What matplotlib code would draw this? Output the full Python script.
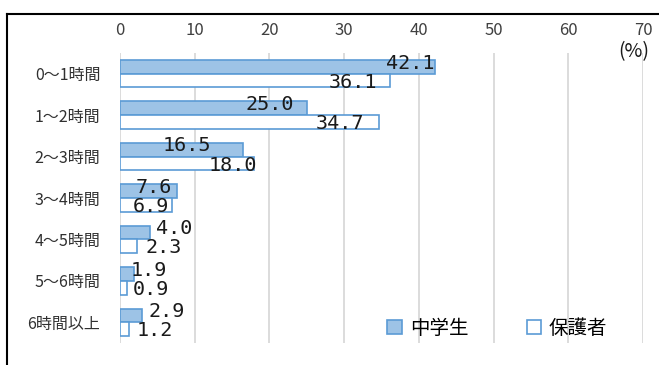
import matplotlib.pyplot as plt
from matplotlib.lines import Line2D
import numpy as np

plt.rcParams['font.family'] = ['Noto Sans CJK JP', 'DejaVu Sans']

# data
categories = ["0～1時間", "1～2時間", "2～3時間", "3～4時間", "4～5時間", "5～6時間", "6時間以上"]
students = [42.1, 25.0, 16.5, 7.6, 4.0, 1.9, 2.9]
parents = [36.1, 34.7, 18.0, 6.9, 2.3, 0.9, 1.2]

# where the value labels sit (centre, in data units) - they were moved by hand in the original
student_label_x = [38.8, 20.1, 9.0, 4.5, 7.2, 3.8, 6.2]
parent_label_x = [31.2, 29.4, 15.1, 4.2, 5.9, 4.2, 4.6]

fig = plt.figure(figsize=(6.59, 3.65), dpi=100)
ax = fig.add_axes([0.182, 0.060, 0.794, 0.795])

y = np.arange(len(categories))
h = 0.33
ax.barh(y - h / 2, students, height=h, color='#9DC3E6', edgecolor='#5B9BD5', linewidth=1.2, label='中学生', zorder=3)
ax.barh(y + h / 2, parents, height=h, color='white', edgecolor='#5B9BD5', linewidth=1.2, label='保護者', zorder=3)

for i in range(len(categories)):
    ax.text(student_label_x[i], y[i] - h / 2 - 0.09, f"{students[i]:.1f}", ha='center', va='center',
            fontsize=14.5, family='DejaVu Sans Mono', color='#1a1a1a', zorder=4)
    ax.text(parent_label_x[i], y[i] + h / 2 + 0.04, f"{parents[i]:.1f}", ha='center', va='center',
            fontsize=14.5, family='DejaVu Sans Mono', color='#1a1a1a', zorder=4)

ax.set_xlim(0, 70)
ax.set_ylim(len(categories) - 0.5, -0.5)
ax.set_xticks(range(0, 71, 10))
ax.xaxis.tick_top()
ax.tick_params(axis='x', length=0, pad=10, labelsize=12, labelcolor='#404040')
ax.set_yticks(y)
ax.set_yticklabels(categories)
ax.tick_params(axis='y', length=0, pad=14, labelsize=11.5, labelcolor='#303030')
ax.grid(axis='x', color='#d9d9d9', linewidth=1.3, zorder=0)
for s in ax.spines.values():
    s.set_visible(False)

ax.text(68.7, -0.52, "(%)", ha='center', va='center', fontsize=14, color='#1a1a1a')

ax.legend(loc='lower right', bbox_to_anchor=(0.965, -0.045), ncol=2, frameon=False, fontsize=14,
          handlelength=0.75, handleheight=0.75, handletextpad=0.4, columnspacing=3.0)

# outer frame of the original figure
fig.add_artist(Line2D([7 / 659, 7 / 659], [0, 1 - 14 / 365], color='black', linewidth=1.5))
fig.add_artist(Line2D([7 / 659, 1], [1 - 14 / 365, 1 - 14 / 365], color='black', linewidth=1.5))

plt.savefig('out.png', dpi=100)
